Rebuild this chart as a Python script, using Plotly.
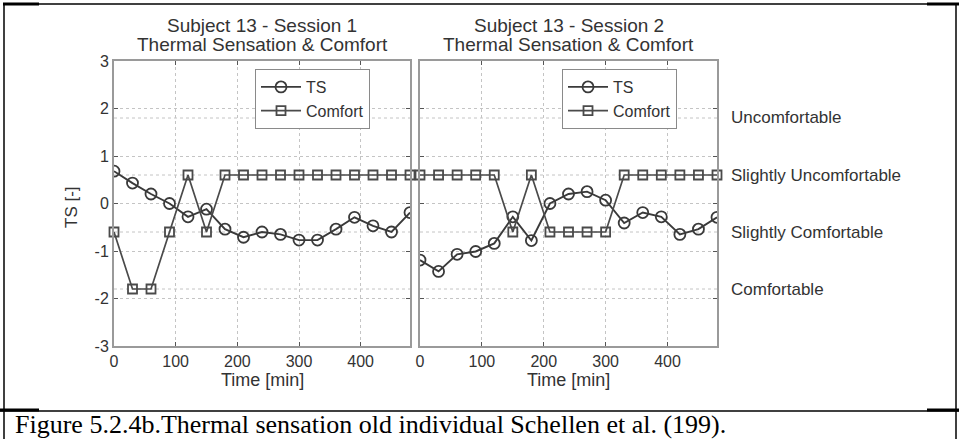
import plotly.graph_objects as go

# ---------------- data ----------------
time_min = [0, 30, 60, 90, 120, 150, 180, 210, 240, 270, 300, 330, 360, 390, 420, 450, 480]
ts_session1 = [0.68, 0.43, 0.20, 0.00, -0.28, -0.12, -0.54, -0.71, -0.60, -0.65, -0.77, -0.77,
               -0.54, -0.29, -0.47, -0.60, -0.19]
comfort_session1 = [-0.6, -1.8, -1.8, -0.6, 0.6, -0.6, 0.6, 0.6, 0.6, 0.6, 0.6, 0.6,
                    0.6, 0.6, 0.6, 0.6, 0.6]
ts_session2 = [-1.19, -1.43, -1.07, -1.01, -0.84, -0.28, -0.78, 0.00, 0.20, 0.25, 0.07, -0.41,
               -0.19, -0.28, -0.65, -0.54, -0.29]
comfort_session2 = [0.6, 0.6, 0.6, 0.6, 0.6, -0.6, 0.6, -0.6, -0.6, -0.6, -0.6, 0.6,
                    0.6, 0.6, 0.6, 0.6, 0.6]
comfort_levels = [-1.8, -0.6, 0.6, 1.8]
comfort_labels = ["Comfortable", "Slightly Comfortable", "Slightly Uncomfortable", "Uncomfortable"]
y_ticks = [-3, -2, -1, 0, 1, 2, 3]
y_tick_labels = ["-3", "-2", "-1", "0", "1", "2", "3"]
x_ticks = [0, 100, 200, 300, 400]
x_tick_labels = ["0", "100", "200", "300", "400"]
panel_titles = ["Subject 13 - Session 1", "Subject 13 - Session 2"]
panel_subtitle = "Thermal Sensation & Comfort"
caption = "Figure 5.2.4b.Thermal sensation old individual Schellen et al. (199)."

W, H = 959, 439
def px(x):
    return x / W
def py(y):
    return 1 - y / H

FONT = "Liberation Sans, Arial, sans-serif"
TXT = "#333333"
LINE_TS = "#3a3a3a"
LINE_CF = "#4a4a4a"

fig = go.Figure()

panels = [
    (ts_session1, comfort_session1, "x", "y", "legend"),
    (ts_session2, comfort_session2, "x2", "y2", "legend2"),
]
for ts, cf, xa, ya, lg in panels:
    fig.add_trace(go.Scatter(
        x=time_min, y=ts, name="TS", mode="lines+markers", xaxis=xa, yaxis=ya, legend=lg,
        line=dict(color=LINE_TS, width=1.9),
        marker=dict(symbol="circle-open", size=11, color=LINE_TS, line=dict(width=1.8)),
        cliponaxis=True,
    ))
    fig.add_trace(go.Scatter(
        x=time_min, y=cf, name="Comfort", mode="lines+markers", xaxis=xa, yaxis=ya, legend=lg,
        line=dict(color=LINE_CF, width=1.7),
        marker=dict(symbol="square-open", size=9, color=LINE_CF, line=dict(width=1.8)),
        cliponaxis=False,
    ))

axis_common = dict(
    showline=True, mirror="ticks", linecolor="#9a9a9a", linewidth=2,
    ticks="inside", ticklen=4, tickcolor="#555", tickwidth=1,
    showgrid=True, gridcolor="#c4c4c4", griddash="dot", gridwidth=1,
    zeroline=False,
    tickfont=dict(family=FONT, size=16, color=TXT),
)

xd1 = [px(114), px(410)]
xd2 = [px(420), px(717)]
yd = [py(346), py(61)]

legend_common = dict(xanchor="left", yanchor="top",
                     bgcolor="white", bordercolor="#8a8a8a", borderwidth=1,
                     font=dict(family=FONT, size=16, color=TXT), tracegroupgap=0,
                     itemwidth=40)

fig.update_layout(
    width=W, height=H,
    margin=dict(l=0, r=0, t=0, b=0, pad=0, autoexpand=False),
    paper_bgcolor="white", plot_bgcolor="white",
    xaxis=dict(domain=xd1, range=[0, 480], tickvals=x_ticks, ticktext=x_tick_labels, anchor="y", **axis_common),
    yaxis=dict(domain=yd, range=[-3, 3], tickvals=y_ticks, ticktext=y_tick_labels, anchor="x", **axis_common),
    xaxis2=dict(domain=xd2, range=[0, 480], tickvals=x_ticks, ticktext=x_tick_labels, anchor="y2", **axis_common),
    yaxis2=dict(domain=yd, range=[-3, 3], tickvals=y_ticks, anchor="x2", showticklabels=False,
                **{k: v for k, v in axis_common.items() if k != "tickfont"}),
    legend=dict(x=px(255), y=py(69), **legend_common),
    legend2=dict(x=px(562), y=py(69), **legend_common),
    showlegend=True,
)

shapes = []
# extra dotted grid lines at the comfort category levels
for xa, ya in (("x", "y"), ("x2", "y2")):
    for lv in comfort_levels:
        shapes.append(dict(type="line", xref=f"{xa} domain", yref=ya, x0=0, x1=1, y0=lv, y1=lv,
                           line=dict(color="#c4c4c4", width=1, dash="dot"), layer="below"))

# outer frame of the figure table
frame = dict(color="black", width=1.5)
shapes += [
    dict(type="line", xref="paper", yref="paper", x0=px(4), x1=px(956), y0=py(4), y1=py(4), line=frame),
    dict(type="line", xref="paper", yref="paper", x0=px(4), x1=px(4), y0=py(4), y1=0, line=frame),
    dict(type="line", xref="paper", yref="paper", x0=px(956), x1=px(956), y0=py(4), y1=0, line=frame),
    dict(type="line", xref="paper", yref="paper", x0=px(0), x1=px(959), y0=py(411), y1=py(411), line=frame),
    dict(type="line", xref="paper", yref="paper", x0=px(3), x1=px(39), y0=py(4), y1=py(4), line=dict(color="black", width=3)),
    dict(type="line", xref="paper", yref="paper", x0=px(927), x1=px(959), y0=py(4), y1=py(4), line=dict(color="black", width=3)),
    dict(type="line", xref="paper", yref="paper", x0=px(0), x1=px(39), y0=py(410), y1=py(410), line=dict(color="black", width=3)),
    dict(type="line", xref="paper", yref="paper", x0=px(927), x1=px(959), y0=py(410), y1=py(410), line=dict(color="black", width=3)),
]
fig.update_layout(shapes=shapes)

ann = []
centers = [(114 + 410) / 2, (420 + 717) / 2]
for c, t in zip(centers, panel_titles):
    ann.append(dict(text=t, x=px(c), y=py(25), xref="paper", yref="paper", showarrow=False,
                    xanchor="center", yanchor="middle", font=dict(family=FONT, size=19, color=TXT)))
    ann.append(dict(text=panel_subtitle, x=px(c), y=py(44), xref="paper", yref="paper", showarrow=False,
                    xanchor="center", yanchor="middle", font=dict(family=FONT, size=19, color=TXT)))
    ann.append(dict(text="Time [min]", x=px(c), y=py(380), xref="paper", yref="paper", showarrow=False,
                    xanchor="center", yanchor="middle", font=dict(family=FONT, size=18, color=TXT)))
ann.append(dict(text="TS [-]", x=px(71), y=py(207), xref="paper", yref="paper", showarrow=False,
                textangle=-90, xanchor="center", yanchor="middle", font=dict(family=FONT, size=17, color=TXT)))
for lv, lab in zip(comfort_levels, comfort_labels):
    ann.append(dict(text=lab, x=px(729), y=lv, xref="paper", yref="y", showarrow=False,
                    xanchor="left", yanchor="middle", font=dict(family=FONT, size=17, color=TXT)))
ann.append(dict(text=caption, x=px(13), y=py(424), xref="paper", yref="paper", showarrow=False,
                xanchor="left", yanchor="middle",
                font=dict(family="Liberation Serif, Times New Roman, serif", size=26, color="black")))
fig.update_layout(annotations=ann)

fig.write_html("out.html",
               config={"displayModeBar": False},
               post_script="document.body.style.margin='0';document.body.style.padding='0';"
                           "document.documentElement.style.overflow='hidden';")
